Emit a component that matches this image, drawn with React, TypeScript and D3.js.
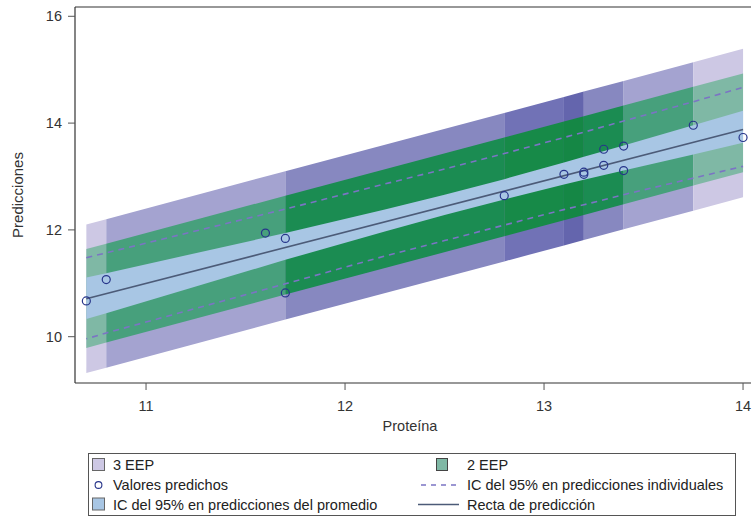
import React from "react";
import * as d3 from "d3";

// ---- data ----
const pointX = [10.7, 10.8, 11.6, 11.7, 11.7, 12.8, 13.1, 13.2, 13.2, 13.3, 13.3, 13.4, 13.4, 13.75, 14.0];
const pointY = [10.67, 11.07, 11.94, 11.84, 10.82, 12.64, 13.04, 13.04, 13.08, 13.51, 13.21, 13.57, 13.11, 13.96, 13.73];

const lineX = [10.7, 14.0];
const lineY = [10.71, 13.88];

const gridX = [10.7, 10.8, 11.7, 12.2, 12.5, 12.8, 13.1, 13.2, 13.4, 13.75, 14.0];
const ciLower = [10.33, 10.44, 11.44, 11.97, 12.28, 12.57, 12.85, 12.94, 13.11, 13.41, 13.63];
const ciUpper = [11.11, 11.19, 11.94, 12.38, 12.66, 12.95, 13.26, 13.37, 13.58, 13.96, 14.23];
const piLower = [9.96, 10.07, 10.99, 11.51, 11.8, 12.09, 12.38, 12.47, 12.66, 12.97, 13.19];
const piUpper = [11.48, 11.57, 12.39, 12.86, 13.14, 13.43, 13.73, 13.83, 14.04, 14.4, 14.67];

const eepX = [10.7, 10.8, 11.7, 12.8, 13.1, 13.2, 13.4, 13.75, 14.0];
const eep3Upper = [12.1, 12.2, 13.1, 14.19, 14.49, 14.59, 14.79, 15.14, 15.39];
const eep3Lower = [9.32, 9.42, 10.32, 11.41, 11.71, 11.81, 12.01, 12.36, 12.61];
const eep2Upper = [11.64, 11.74, 12.64, 13.73, 14.03, 14.13, 14.33, 14.68, 14.93];
const eep2Lower = [9.79, 9.89, 10.79, 11.88, 12.18, 12.28, 12.48, 12.83, 13.08];
const eepOverlap = [1, 2, 3, 4, 5, 3, 2, 1];

const xTicks = [11, 12, 13, 14];
const yTicks = [10, 12, 14, 16];

const legendLeft = ["3 EEP", "Valores predichos", "IC del 95% en predicciones del promedio"];
const legendRight = ["2 EEP", "IC del 95% en predicciones individuales", "Recta de predicción"];

// ---- styles ----
const purpleLevels = ["", "#cdc8e4", "#a4a3d0", "#8788c0", "#7172b6", "#6465ad"];
const greenLevels = ["", "#7fb8a5", "#47a07c", "#1b8c52", "#178a48", "#158745"];
const blueFill = "#a8c6e4";
const dashColor = "#7b74c4";
const lineColor = "#4c5b78";
const markColor = "#27358a";
const font = "'Liberation Sans', Arial, sans-serif";

export default function App() {
  const W = 753, H = 517;
  const L = 75, R = 751, T = 7, B = 383;
  const x = d3.scaleLinear().domain([10.643, 14.04]).range([L, R]);
  const y = d3.scaleLinear().domain([9.133, 16.174]).range([B, T]);

  const segArea = (up: number[], lo: number[], i: number) =>
    d3.area<number>()
      .x((j) => x(eepX[j]))
      .y0((j) => y(lo[j]))
      .y1((j) => y(up[j]))([i, i + 1]) || "";

  const idx = gridX.map((_, i) => i);
  const ciArea = d3.area<number>().x((i) => x(gridX[i])).y0((i) => y(ciLower[i])).y1((i) => y(ciUpper[i]))(idx) || "";
  const piUp = d3.line<number>().x((i) => x(gridX[i])).y((i) => y(piUpper[i]))(idx) || "";
  const piLo = d3.line<number>().x((i) => x(gridX[i])).y((i) => y(piLower[i]))(idx) || "";
  const regLine = d3.line<number>().x((i) => x(lineX[i])).y((i) => y(lineY[i]))([0, 1]) || "";

  const rows = [465, 485, 504.5];

  return (
    <svg width={W} height={H} style={{ position: "absolute", left: 0, top: 0, fontFamily: font }}>
      <rect width={W} height={H} fill="#fff" />
      {eepOverlap.map((lv, i) => (
        <path key={"p" + i} d={segArea(eep3Upper, eep3Lower, i)} fill={purpleLevels[lv]} />
      ))}
      {eepOverlap.map((lv, i) => (
        <path key={"g" + i} d={segArea(eep2Upper, eep2Lower, i)} fill={greenLevels[lv]} />
      ))}
      <path d={ciArea} fill={blueFill} />
      <path d={piUp} fill="none" stroke={dashColor} strokeWidth={1.6} strokeDasharray="6,5" />
      <path d={piLo} fill="none" stroke={dashColor} strokeWidth={1.6} strokeDasharray="6,5" strokeDashoffset={5} />
      <path d={regLine} fill="none" stroke={lineColor} strokeWidth={1.6} />
      {pointX.map((px, i) => (
        <circle key={"c" + i} cx={x(px)} cy={y(pointY[i])} r={4} fill="none" stroke={markColor} strokeWidth={1.2} />
      ))}

      {/* frame */}
      <line x1={L} y1={T} x2={L} y2={B} stroke="#333" strokeWidth={1.2} />
      <line x1={L} y1={T} x2={R} y2={T} stroke="#333" strokeWidth={1.2} />
      <line x1={L} y1={B} x2={R} y2={B} stroke="#333" strokeWidth={1.2} />

      {/* axes */}
      {yTicks.map((t) => (
        <g key={"yt" + t}>
          <line x1={L - 7} x2={L} y1={y(t)} y2={y(t)} stroke="#555" strokeWidth={1} />
          <text x={L - 13} y={y(t)} dy="0.35em" textAnchor="end" fontSize={14.5} fill="#333">{t}</text>
        </g>
      ))}
      {xTicks.map((t) => (
        <g key={"xt" + t}>
          <line x1={x(t)} x2={x(t)} y1={B} y2={B + 7} stroke="#555" strokeWidth={1} />
          <text x={x(t)} y={406} dy="0.35em" textAnchor="middle" fontSize={14.5} fill="#333">{t}</text>
        </g>
      ))}
      <text x={410} y={426} dy="0.35em" textAnchor="middle" fontSize={14.5} fill="#333">Proteína</text>
      <text transform={`translate(18,195) rotate(-90)`} dy="0.35em" textAnchor="middle" fontSize={15} fill="#333">Predicciones</text>

      {/* legend */}
      <rect x={88.5} y={453.5} width={647} height={62} fill="#fff" stroke="#555" strokeWidth={1} />
      <rect x={92.5} y={rows[0] - 6.5} width={12} height={12} fill={purpleLevels[1]} stroke="#666" />
      <circle cx={98.5} cy={rows[1]} r={3.4} fill="none" stroke={markColor} strokeWidth={1.1} />
      <rect x={92.5} y={rows[2] - 6.5} width={12} height={12} fill={blueFill} stroke="#666" />
      {legendLeft.map((s, i) => (
        <text key={"ll" + i} x={113} y={rows[i]} dy="0.35em" fontSize={14.5} fill="#222">{s}</text>
      ))}
      <rect x={436.5} y={rows[0] - 6.5} width={11} height={12} fill={greenLevels[1]} stroke="#444" />
      <line x1={421} x2={461} y1={rows[1]} y2={rows[1]} stroke={dashColor} strokeWidth={1.4} strokeDasharray="5,5" />
      <line x1={418} x2={459} y1={rows[2]} y2={rows[2]} stroke={lineColor} strokeWidth={1.5} />
      {legendRight.map((s, i) => (
        <text key={"lr" + i} x={467} y={rows[i]} dy="0.35em" fontSize={14.5} fill="#222">{s}</text>
      ))}
    </svg>
  );
}
